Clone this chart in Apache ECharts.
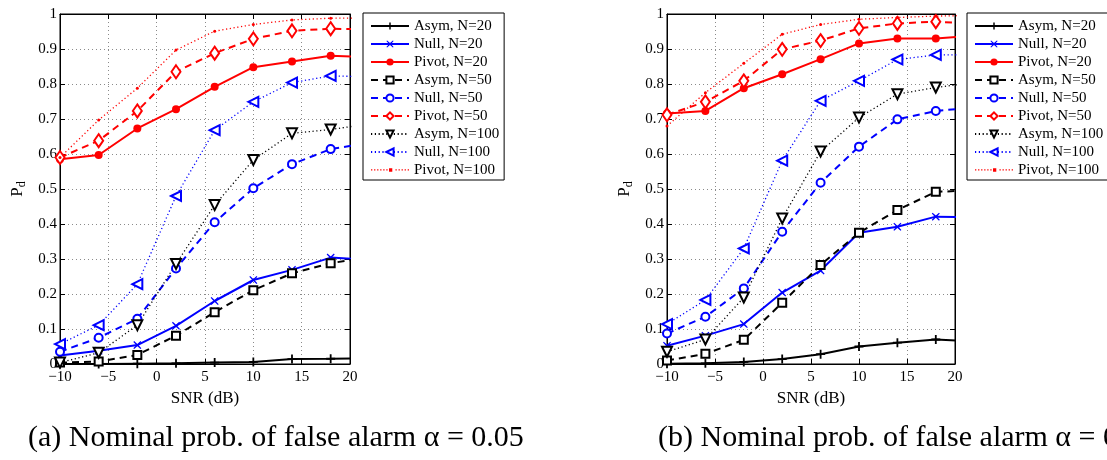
<!DOCTYPE html>
<html>
<head>
<meta charset="utf-8">
<script src="https://cdn.jsdelivr.net/npm/echarts@6/dist/echarts.min.js"></script>
<style>
html,body{margin:0;padding:0;background:#fff;}
#chart{width:1107px;height:460px;}
</style>
</head>
<body>
<div id="chart"></div>
<script>
// ---- data ----
var snr = [-10, -6, -2, 2, 6, 10, 14, 18, 22];
var xTicks = [-10, -5, 0, 5, 10, 15, 20];
var yTicks = [0, 0.1, 0.2, 0.3, 0.4, 0.5, 0.6, 0.7, 0.8, 0.9, 1];
var seriesNames = ['Asym, N=20', 'Null, N=20', 'Pivot, N=20', 'Asym, N=50', 'Null, N=50', 'Pivot, N=50', 'Asym, N=100', 'Null, N=100', 'Pivot, N=100'];

// (a) alpha = 0.05
var a_asym20  = [0.000, 0.000, 0.001, 0.002, 0.004, 0.006, 0.014, 0.015, 0.017];
var a_null20  = [0.024, 0.038, 0.054, 0.109, 0.180, 0.240, 0.269, 0.304, 0.298];
var a_pivot20 = [0.585, 0.597, 0.673, 0.728, 0.792, 0.848, 0.864, 0.881, 0.877];
var a_asym50  = [0.004, 0.007, 0.026, 0.081, 0.148, 0.211, 0.259, 0.288, 0.305];
var a_null50  = [0.035, 0.075, 0.129, 0.273, 0.405, 0.502, 0.571, 0.614, 0.632];
var a_pivot50 = [0.590, 0.638, 0.723, 0.835, 0.888, 0.929, 0.952, 0.958, 0.956];
var a_asym100 = [0.004, 0.032, 0.111, 0.286, 0.454, 0.583, 0.659, 0.670, 0.686];
var a_null100 = [0.057, 0.111, 0.228, 0.480, 0.668, 0.749, 0.804, 0.823, 0.821];
var a_pivot100= [0.590, 0.697, 0.788, 0.897, 0.951, 0.970, 0.983, 0.988, 0.988];

// (b) alpha = 0.1
var b_asym20  = [0.001, 0.002, 0.006, 0.014, 0.028, 0.050, 0.061, 0.070, 0.064];
var b_null20  = [0.052, 0.081, 0.114, 0.204, 0.267, 0.375, 0.392, 0.421, 0.419];
var b_pivot20 = [0.716, 0.723, 0.788, 0.828, 0.871, 0.916, 0.930, 0.930, 0.938];
var b_asym50  = [0.010, 0.029, 0.069, 0.175, 0.283, 0.375, 0.440, 0.492, 0.496];
var b_null50  = [0.087, 0.135, 0.216, 0.378, 0.518, 0.621, 0.699, 0.723, 0.733];
var b_pivot50 = [0.712, 0.749, 0.809, 0.899, 0.924, 0.959, 0.973, 0.978, 0.972];
var b_asym100 = [0.035, 0.070, 0.190, 0.416, 0.607, 0.704, 0.771, 0.790, 0.804];
var b_null100 = [0.114, 0.183, 0.330, 0.581, 0.752, 0.809, 0.870, 0.883, 0.883];
var b_pivot100= [0.680, 0.775, 0.859, 0.942, 0.970, 0.985, 0.990, 0.994, 0.996];

var captionA = '(a) Nominal prob. of false alarm \u03b1 = 0.05';
var captionB = '(b) Nominal prob. of false alarm \u03b1 = 0.1';

// ---- styles ----
var SERIF = '"Liberation Serif","DejaVu Serif",serif';
var PLUS = 'path://M4,0H6V4H10V6H6V10H4V6H0V4H4Z';
var STAR = 'path://M1,0L5,3.6L9,0L10,1L6.4,5L10,9L9,10L5,6.4L1,10L0,9L3.6,5L0,1Z';
var styles = [
  {c:'#000000', t:'solid',  w:2,   sym:PLUS, size:9, fill:true},
  {c:'#0000ff', t:'solid',  w:2,   sym:STAR, size:8, fill:true},
  {c:'#ff0000', t:'solid',  w:2,   sym:'circle', size:8, fill:true},
  {c:'#000000', t:[7,5],    w:2,   sym:'rect', size:8, fill:false},
  {c:'#0000ff', t:[7,5],    w:2,   sym:'circle', size:8, fill:false},
  {c:'#ff0000', t:[7,5],    w:2,   sym:'diamond', size:[9,13], fill:false},
  {c:'#000000', t:[1.2,2.6],w:1.3, sym:'triangle', size:10, fill:false, rot:180},
  {c:'#0000ff', t:[1.2,2.6],w:1.3, sym:'triangle', size:10, fill:false, rot:90},
  {c:'#ff0000', t:[1.2,2.6],w:1.3, sym:'circle', size:3, fill:true}
];

function pair(vals){ return snr.map(function(x,i){ return [x, vals[i]]; }); }

function makeSeries(idx, vals, gi){
  var s = styles[idx];
  return {
    type:'line', name: seriesNames[idx], xAxisIndex: gi*2, yAxisIndex: gi*2,
    data: pair(vals), clip: true, animation:false,
    symbol: s.sym, symbolSize: s.size, symbolRotate: s.rot || 0, showAllSymbol: true,
    lineStyle: {color: s.c, width: s.w, type: s.t},
    itemStyle: {color: s.fill ? s.c : '#ffffff', borderColor: s.c, borderWidth: s.fill ? 0 : 2},
    emphasis: {disabled: true}
  };
}

var aSets = [a_asym20,a_null20,a_pivot20,a_asym50,a_null50,a_pivot50,a_asym100,a_null100,a_pivot100];
var bSets = [b_asym20,b_null20,b_pivot20,b_asym50,b_null50,b_pivot50,b_asym100,b_null100,b_pivot100];
var series = [];
aSets.forEach(function(v,i){ series.push(makeSeries(i, v, 0)); });
bSets.forEach(function(v,i){ series.push(makeSeries(i, v, 1)); });

var grids = [
  {left:60, top:14, width:290, height:350, show:true, borderColor:'#000', borderWidth:1},
  {left:667, top:14, width:288, height:350, show:true, borderColor:'#000', borderWidth:1}
];

function fmtX(v){ return v < 0 ? '\u2212' + Math.abs(v) : String(v); }
function fmtY(v){ return (v === 0 || v === 1) ? String(v) : v.toFixed(1); }

var xAxes = [], yAxes = [];
[0,1].forEach(function(g){
  xAxes.push({
    type:'value', gridIndex:g, min:xTicks[0], max:xTicks[xTicks.length-1], interval:5, position:'bottom',
    name:'SNR (dB)', nameLocation:'middle', nameGap:20,
    nameTextStyle:{fontFamily:SERIF, fontSize:17, color:'#000'},
    axisLine:{onZero:false, lineStyle:{color:'#000', width:1}},
    axisTick:{inside:true, length:5, lineStyle:{color:'#000'}},
    axisLabel:{formatter:fmtX, fontFamily:SERIF, fontSize:15, color:'#000', margin:6},
    splitLine:{show:true, lineStyle:{color:'#8a8a8a', type:[1,3], width:1}}
  });
  xAxes.push({
    type:'value', gridIndex:g, min:xTicks[0], max:xTicks[xTicks.length-1], interval:5, position:'top',
    axisLine:{onZero:false, lineStyle:{color:'#000'}}, axisTick:{inside:true, length:5, lineStyle:{color:'#000'}},
    axisLabel:{show:false}, splitLine:{show:false}
  });
  yAxes.push({
    type:'value', gridIndex:g, min:yTicks[0], max:yTicks[yTicks.length-1], interval:0.1, position:'left',
    name:'{p|P}{d|d}', nameLocation:'middle', nameGap:32, nameRotate:90,
    nameTextStyle:{fontFamily:SERIF, fontSize:17, color:'#000',
      rich:{p:{fontFamily:SERIF, fontSize:17, color:'#000'}, d:{fontFamily:SERIF, fontSize:12, color:'#000', padding:[8,0,0,0]}}},
    axisLine:{onZero:false, lineStyle:{color:'#000', width:1}},
    axisTick:{inside:true, length:5, lineStyle:{color:'#000'}},
    axisLabel:{formatter:fmtY, fontFamily:SERIF, fontSize:15, color:'#000', margin:3},
    splitLine:{show:true, lineStyle:{color:'#8a8a8a', type:[1,3], width:1}}
  });
  yAxes.push({
    type:'value', gridIndex:g, min:yTicks[0], max:yTicks[yTicks.length-1], interval:0.1, position:'right',
    axisLine:{onZero:false, lineStyle:{color:'#000'}}, axisTick:{inside:true, length:5, lineStyle:{color:'#000'}},
    axisLabel:{show:false}, splitLine:{show:false}
  });
});

// legend icon for the dotted "Pivot, N=100" entry: dotted line with a small dot (kept at aspect)
var dotIcon = (function(){
  var p = 'path://';
  for (var x = 0; x <= 37; x += 3) {
    if (x >= 16 && x <= 21) continue;
    p += 'M' + x + ',1.2h1.3v1.3h-1.3Z';
  }
  p += 'M17.7,0.3h3.2v3.2h-3.2Z';
  return p;
})();

function makeLegend(left){
  var data = seriesNames.map(function(n, i){
    return i === 8 ? {name:n, icon:dotIcon, itemStyle:{color:'#ff0000', borderWidth:0}} : {name:n};
  });
  return {
    data: data, orient:'vertical', left:left, top:13,
    padding:[4,5,1,7], itemGap:0, itemWidth:38, itemHeight:9, symbolKeepAspect:true,
    backgroundColor:'#fff', borderColor:'#000', borderWidth:1,
    textStyle:{fontFamily:SERIF, fontSize:15, color:'#000', lineHeight:18},
    selectedMode:false
  };
}

var option = {
  animation:false,
  backgroundColor:'#fff',
  grid: grids, xAxis: xAxes, yAxis: yAxes, series: series,
  legend: [makeLegend(363), makeLegend(967)],
  graphic: [
    {type:'text', left:28, top:423, style:{text:captionA, font:'30px ' + SERIF, fill:'#000'}},
    {type:'text', left:658, top:423, style:{text:captionB, font:'30px ' + SERIF, fill:'#000'}}
  ]
};

var chart = echarts.init(document.getElementById('chart'), null, {renderer:'canvas'});
chart.setOption(option);
</script>
</body>
</html>
